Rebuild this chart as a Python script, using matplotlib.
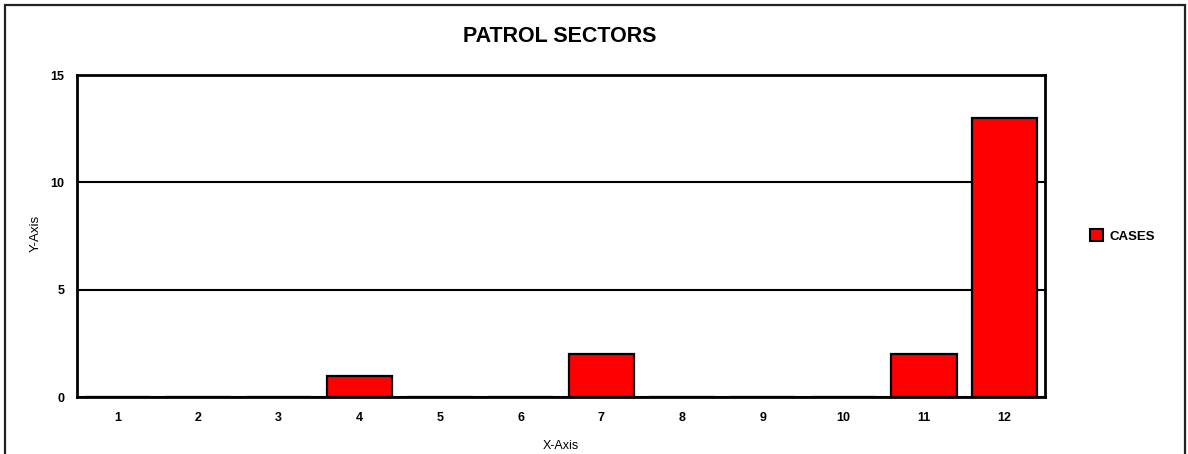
import matplotlib
matplotlib.use('Agg')
from matplotlib import pyplot as plt
from matplotlib.patches import Rectangle, Patch

plt.rcParams['font.family'] = ['Liberation Sans', 'DejaVu Sans']

sectors = ['1', '2', '3', '4', '5', '6', '7', '8', '9', '10', '11', '12']
cases = [0, 0, 0, 1, 0, 0, 2, 0, 0, 0, 2, 13]
y_ticks = [0, 5, 10, 15]

fig = plt.figure(figsize=(11.88, 4.54), dpi=100)
ax = fig.add_axes([77 / 1188, 1 - 397 / 454, 968 / 1188, 322 / 454])

x = list(range(1, len(sectors) + 1))
ax.bar(x, cases, width=0.81, color='#ff0000', edgecolor='black', linewidth=1.6, zorder=3)

ax.set_xlim(0.5, 12.5)
ax.set_ylim(0, 15)
ax.set_yticks(y_ticks)
ax.set_xticks(x)
ax.set_xticklabels(sectors)
ax.tick_params(length=0, labelsize=9)
ax.tick_params(axis='y', pad=9)
ax.tick_params(axis='x', pad=11)
for lbl in ax.get_xticklabels() + ax.get_yticklabels():
    lbl.set_fontweight('bold')

ax.yaxis.grid(True, color='black', linewidth=1.5, zorder=1)
for sp in ax.spines.values():
    sp.set_linewidth(2.0)
    sp.set_zorder(4)

fig.text(561 / 1188, 1 - 446 / 454, 'X-Axis', ha='center', va='center', fontsize=9)
fig.text(36 / 1188, 1 - 233 / 454, 'Y-Axis', ha='center', va='center', fontsize=9.5, rotation=90)
fig.text(560 / 1188, 1 - 36 / 454, 'PATROL SECTORS', ha='center', va='center', fontsize=15.5, fontweight='bold')

handle = Patch(facecolor='#ff0000', edgecolor='black', linewidth=1.5)
fig.legend([handle], ['CASES'], loc='center left', bbox_to_anchor=(1078 / 1188, 1 - 236 / 454),
           frameon=False, handlelength=1.0, handleheight=1.0, handletextpad=0.5,
           prop={'size': 9.5, 'weight': 'bold'})

fig.patches.append(Rectangle((5 / 1188, -0.1), 1180 / 1188, 1.1 - 5 / 454, transform=fig.transFigure,
                             fill=False, edgecolor='#222222', linewidth=1.6))

fig.savefig('out.png', dpi=100)
